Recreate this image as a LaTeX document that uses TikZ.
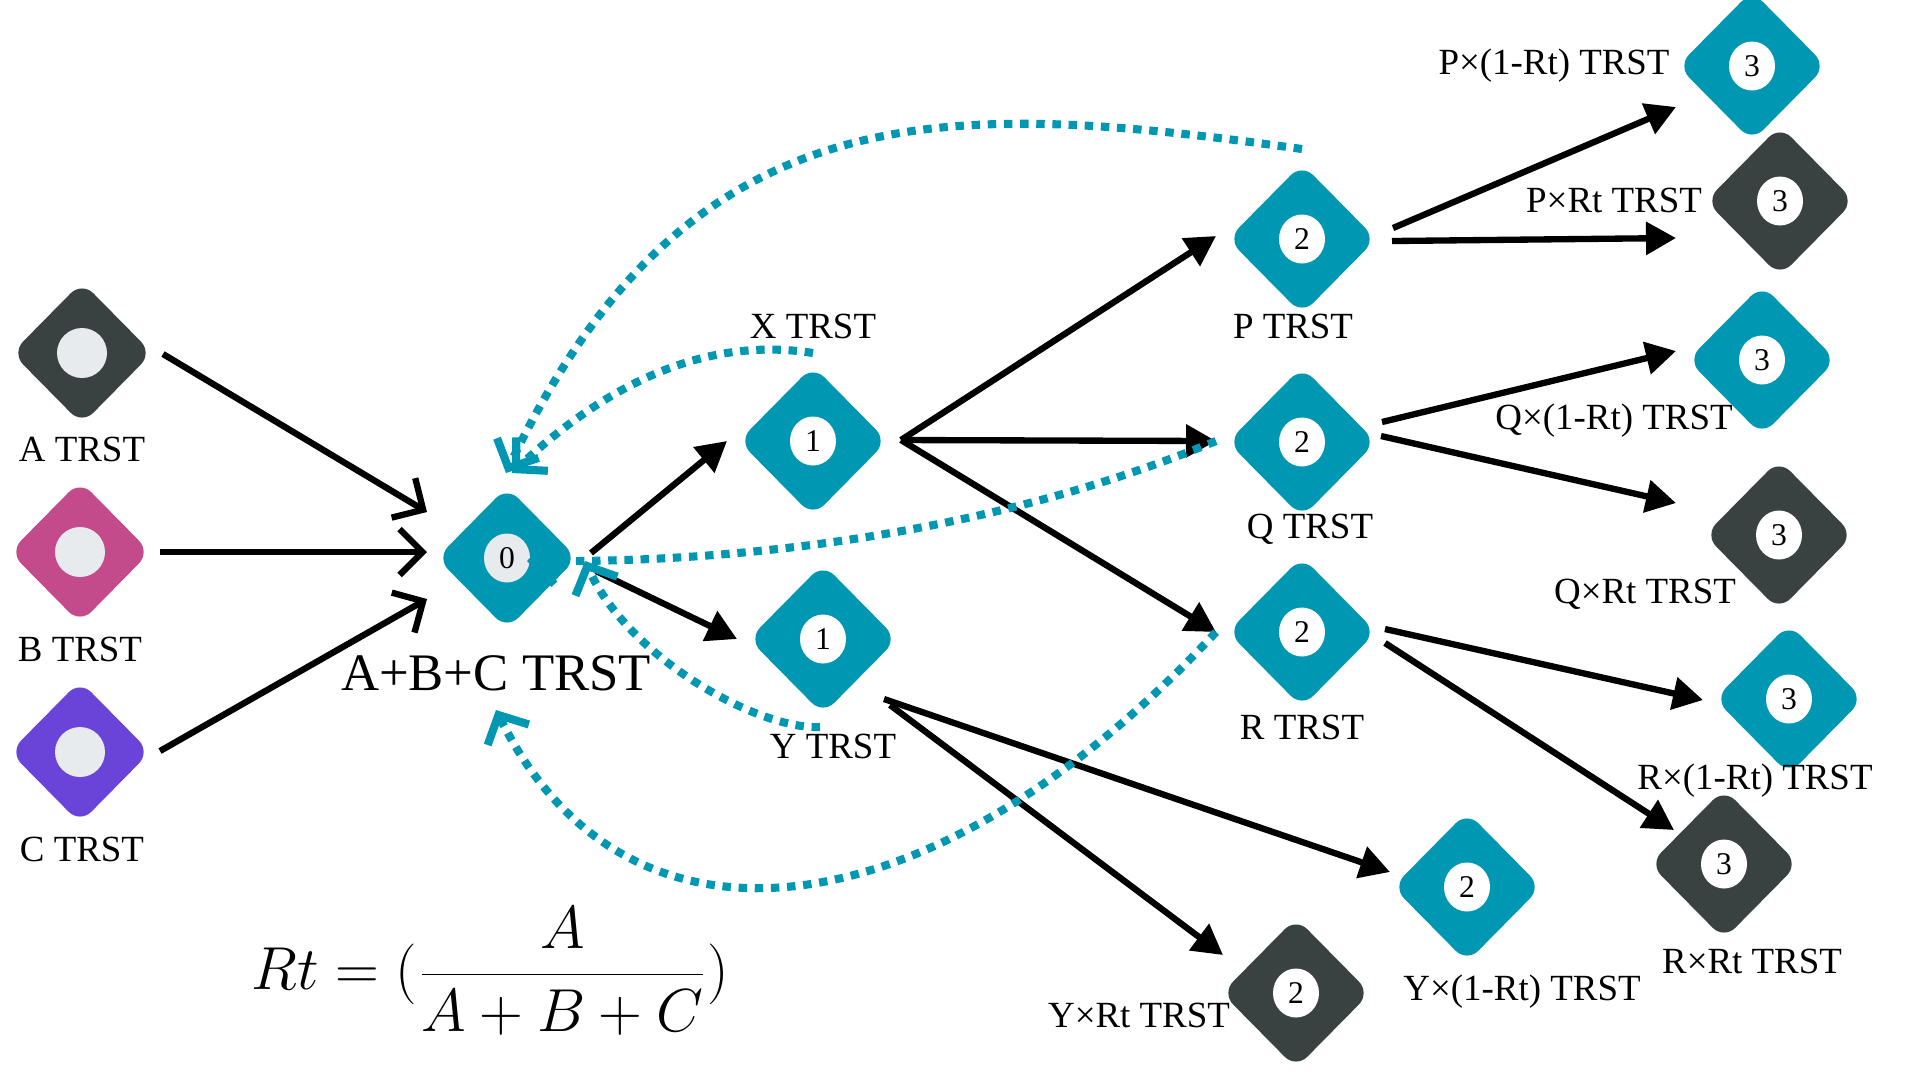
\documentclass[tikz,border=0pt]{standalone}
\usepackage[no-math]{fontspec}
\setmainfont{Liberation Serif}
\usetikzlibrary{arrows.meta,shapes.geometric,calc}
\definecolor{teal1}{HTML}{0097B2}
\definecolor{dark1}{HTML}{3A4241}
\definecolor{pink1}{HTML}{C34A8B}
\definecolor{purp1}{HTML}{6A43D8}
\definecolor{lgrey}{HTML}{E8EBED}
\begin{document}
\begin{tikzpicture}[x=0.1mm,y=-0.1mm,
  dia/.style={diamond, fill=#1, rounded corners=1.6mm, minimum width=14.9mm, minimum height=15.1mm, inner sep=0pt, font=\fontsize{9}{10}\selectfont},
  big/.style={minimum width=14.1mm, minimum height=14.3mm},
  dot/.style={path picture={\fill[#1] (path picture bounding box.center) ellipse [x radius=2.3mm, y radius=2.45mm];}},
  bigdot/.style={path picture={\fill[#1] (path picture bounding box.center) ellipse [x radius=2.5mm, y radius=2.5mm];}},
  lbl/.style={font=\fontsize{10.5}{12}\selectfont, inner sep=0pt},
  arr/.style={line width=1.8pt, -{Triangle[length=3mm, width=3.2mm]}},
  arrb/.style={line width=1.8pt, -{Straight Barb[length=2.3mm, width=4.6mm]}},
  dots/.style={teal1, line width=2.3pt, dash pattern=on 2.4pt off 2.2pt, -{Straight Barb[length=2.2mm, width=4.6mm]}}
]
\useasboundingbox (0,0) rectangle (1920,1080);

% left inputs
\node[dia=dark1, big, bigdot=lgrey] (A) at (82,353) {};
\node[dia=pink1, big, bigdot=lgrey] (B) at (80,552) {};
\node[dia=purp1, big, bigdot=lgrey] (C) at (80,752) {};
\node[lbl] (Al) at (82,449) {A TRST};
\node[lbl] (Bl) at (80,649) {B TRST};
\node[lbl] (Cl) at (82,849) {C TRST};

% centre
\node[dia=teal1, big, dot=lgrey] (O) at (507,558) {0};
\node[font=\fontsize{15}{17}\selectfont, inner sep=0pt] (Ol) at (496,673) {A+B+C TRST};

% level 1
\node[dia=teal1, dot=white] (X) at (813,441) {1};
\node[dia=teal1, dot=white] (Y) at (823,639) {1};
\node[lbl] (Xl) at (813,326) {X TRST};
\node[lbl] (Yl) at (833,746) {Y TRST};

% level 2
\node[dia=teal1, dot=white] (P) at (1302,239) {2};
\node[dia=teal1, dot=white] (Q) at (1302,442) {2};
\node[dia=teal1, dot=white] (R) at (1302,632) {2};
\node[dia=teal1, dot=white] (Ya) at (1467,887) {2};
\node[dia=dark1, dot=white] (Yb) at (1296,993) {2};
\node[lbl] (Pl) at (1293,326) {P TRST};
\node[lbl] (Ql) at (1310,529) {Q TRST};
\node[lbl] (Rl) at (1302,727) {R TRST};
\node[lbl] (Yal) at (1522,992) {Y×(1-Rt) TRST};
\node[lbl] (Ybl) at (1139,1015) {Y×Rt TRST};

% level 3
\node[dia=teal1, dot=white] (Pa) at (1752,66) {3};
\node[dia=dark1, dot=white] (Pb) at (1780,201) {3};
\node[dia=teal1, dot=white] (Qa) at (1762,360) {3};
\node[dia=dark1, dot=white] (Qb) at (1779,535) {3};
\node[dia=teal1, dot=white] (Ra) at (1789,699) {3};
\node[dia=dark1, dot=white] (Rb) at (1724,864) {3};
\node[lbl] (Pal) at (1554,66) {P×(1-Rt) TRST};
\node[lbl] (Pbl) at (1614,200) {P×Rt TRST};
\node[lbl] (Qal) at (1614,421) {Q×(1-Rt) TRST};
\node[lbl] (Qbl) at (1645,594) {Q×Rt TRST};
\node[lbl] (Ral) at (1755,781) {R×(1-Rt) TRST};
\node[lbl] (Rbl) at (1752,961) {R×Rt TRST};

% formula
\node[inner sep=0pt] (F) at (490,971) {\fontsize{16.5}{19}\selectfont $\displaystyle Rt = (\frac{A}{A+B+C})$};

% black arrows
\draw[arrb] ([shift={(81,1)}]A.center) -- ([shift={(-80,-46)}]O.center);
\draw[arrb] ([shift={(80,0)}]B.center) -- ([shift={(-80,-6)}]O.center);
\draw[arrb] ([shift={(80,-1)}]C.center) -- ([shift={(-80,41)}]O.center);
\draw[arr] ([shift={(84,-5)}]O.center) -- ([shift={(-86,0)}]X.center);
\draw[arr] ([shift={(89,13)}]O.center) -- ([shift={(-86,0)}]Y.center);
\draw[arr] ([shift={(88,-1)}]X.center) -- ([shift={(-86,-3)}]P.center);
\draw[arr] ([shift={(88,-1)}]X.center) -- ([shift={(-86,-1)}]Q.center);
\draw[arr] ([shift={(88,-1)}]X.center) -- ([shift={(-86,0)}]R.center);
\draw[arr] ([shift={(61,60)}]Y.center) -- ([shift={(-77,-15)}]Ya.center);
\draw[arr] ([shift={(67,66)}]Y.center) -- ([shift={(-73,-38)}]Yb.center);
\draw[arr] ([shift={(91,-11)}]P.center) -- ([shift={(-76,41)}]Pa.center);
\draw[arr] ([shift={(90,2)}]P.center) -- ([shift={(-104,37)}]Pb.center);
\draw[arr] ([shift={(80,-20)}]Q.center) -- ([shift={(-86,-9)}]Qa.center);
\draw[arr] ([shift={(79,-6)}]Q.center) -- ([shift={(-103,-32)}]Qb.center);
\draw[arr] ([shift={(83,-3)}]R.center) -- ([shift={(-86,1)}]Ra.center);
\draw[arr] ([shift={(83,11)}]R.center) -- ([shift={(-50,-34)}]Rb.center);

% dotted feedback curves
\draw[dots] ([shift={(0,-90)}]P.center) .. controls (950,100) and (690,85) .. ([shift={(-1,-85)}]O.center);
\draw[dots] ([shift={(0,-88)}]X.center) .. controls (700,335) and (600,390) .. ([shift={(5,-85)}]O.center);
\draw[dots] ([shift={(-86,-1)}]Q.center) .. controls (1000,530) and (757,563) .. ([shift={(20,3)}]O.center);
\draw[dots] ([shift={(-3,88)}]Y.center) .. controls (760,730) and (630,660) .. ([shift={(78,3)}]O.center);
\draw[dots] ([shift={(-86,0)}]R.center) .. controls (940,930) and (630,980) .. ([shift={(-11,152)}]O.center);
\end{tikzpicture}
\end{document}
